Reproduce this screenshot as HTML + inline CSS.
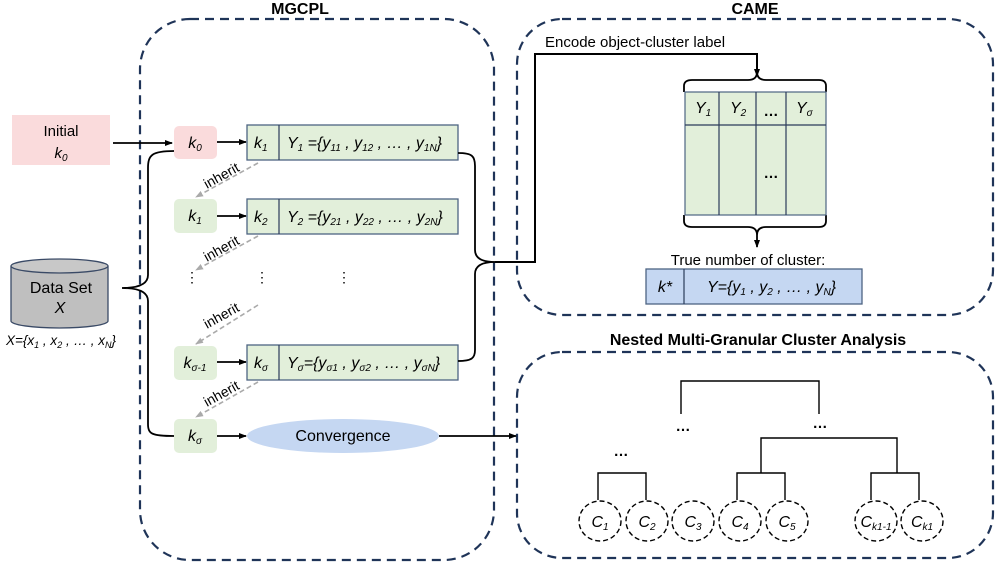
<!DOCTYPE html>
<html><head><meta charset="utf-8"><style>
html,body{margin:0;padding:0;background:#fff}
svg{display:block}
text{font-family:"Liberation Sans",Arial,sans-serif;fill:#000}
.i{font-style:italic}
</style></head><body>
<svg width="996" height="563" viewBox="0 0 996 563" xmlns="http://www.w3.org/2000/svg">
<defs>
<marker id="a" markerWidth="8" markerHeight="8" refX="7" refY="4" orient="auto" markerUnits="userSpaceOnUse"><path d="M0,1 L8,4 L0,7 Z" fill="#000"/></marker>
<marker id="g" markerWidth="8" markerHeight="8" refX="7" refY="4" orient="auto" markerUnits="userSpaceOnUse"><path d="M0,1 L8,4 L0,7 Z" fill="#aaa"/></marker>
</defs>
<g fill="none" stroke="#1f3458" stroke-width="2.2" stroke-dasharray="9,6">
<rect x="140" y="19" width="354" height="541" rx="50"/>
<rect x="517" y="19" width="476" height="296" rx="45"/>
<rect x="517" y="352" width="476" height="206" rx="45"/>
</g>
<text x="300" y="14" font-size="16" font-weight="bold" text-anchor="middle">MGCPL</text>
<text x="755" y="14" font-size="16" font-weight="bold" text-anchor="middle">CAME</text>
<text x="758" y="345" font-size="16" font-weight="bold" text-anchor="middle">Nested Multi-Granular Cluster Analysis</text>

<rect x="12" y="115" width="98" height="50" fill="#fadbdc"/>
<text x="61" y="136" font-size="15" text-anchor="middle">Initial</text>
<text x="61" y="158" font-size="15" text-anchor="middle" class="i">k<tspan font-size="10" dy="3">0</tspan></text>
<line x1="113" y1="143" x2="172" y2="143" stroke="#000" stroke-width="1.8" marker-end="url(#a)"/>

<path d="M11,266 L11,321 A48.5,7 0 0 0 108,321 L108,266" fill="#bfbfbf" stroke="#3a4a66" stroke-width="1.3"/>
<ellipse cx="59.5" cy="266" rx="48.5" ry="7" fill="#c8c8c8" stroke="#3a4a66" stroke-width="1.3"/>
<text x="61" y="293" font-size="16" text-anchor="middle">Data Set</text>
<text x="60" y="313" font-size="16" text-anchor="middle" class="i">X</text>
<text x="61" y="345" font-size="13.5" text-anchor="middle" class="i">X={x<tspan font-size="9" dy="3">1</tspan><tspan dy="-3"> , x</tspan><tspan font-size="9" dy="3">2</tspan><tspan dy="-3"> , … , x</tspan><tspan font-size="9" dy="3">N</tspan><tspan dy="-3">}</tspan></text>

<path d="M174,151 C152,151 148,155 148,168 L148,275 Q148,288 122,288 Q148,288 148,301 L148,424 C148,434 152,436 174,436" fill="none" stroke="#000" stroke-width="1.8"/>

<rect x="174" y="126" width="43" height="33" rx="5" fill="#fadbdc"/>
<rect x="174" y="199" width="43" height="34" rx="5" fill="#e2efda"/>
<rect x="174" y="346" width="43" height="34" rx="5" fill="#e2efda"/>
<rect x="174" y="419" width="43" height="34" rx="5" fill="#e2efda"/>
<text x="195" y="148" font-size="16" text-anchor="middle" class="i">k<tspan font-size="10" dy="3">0</tspan></text>
<text x="195" y="221" font-size="16" text-anchor="middle" class="i">k<tspan font-size="10" dy="3">1</tspan></text>
<text x="195" y="368" font-size="16" text-anchor="middle" class="i">k<tspan font-size="10" dy="3">σ-1</tspan></text>
<text x="195" y="441" font-size="16" text-anchor="middle" class="i">k<tspan font-size="10" dy="3">σ</tspan></text>

<g stroke="#000" stroke-width="1.8">
<line x1="217" y1="142" x2="246" y2="142" marker-end="url(#a)"/>
<line x1="217" y1="216" x2="246" y2="216" marker-end="url(#a)"/>
<line x1="217" y1="362" x2="246" y2="362" marker-end="url(#a)"/>
<line x1="217" y1="436" x2="246" y2="436" marker-end="url(#a)"/>
</g>

<g fill="#e2efda" stroke="#4d6482" stroke-width="1.3">
<rect x="247" y="125" width="211" height="35"/>
<rect x="247" y="199" width="211" height="35"/>
<rect x="247" y="345" width="211" height="35"/>
</g>
<g stroke="#2b3b5a" stroke-width="1.2">
<line x1="279" y1="125" x2="279" y2="160"/><line x1="279" y1="199" x2="279" y2="234"/><line x1="279" y1="345" x2="279" y2="380"/>
</g>
<g font-size="16">
<text x="254" y="148" class="i">k<tspan font-size="10" dy="3">1</tspan></text>
<text x="254" y="222" class="i">k<tspan font-size="10" dy="3">2</tspan></text>
<text x="254" y="368" class="i">k<tspan font-size="10" dy="3">σ</tspan></text>
<text x="287" y="148" class="i">Y<tspan font-size="10" dy="3">1</tspan><tspan dy="-3"> ={y</tspan><tspan font-size="10" dy="3">11</tspan><tspan dy="-3"> , y</tspan><tspan font-size="10" dy="3">12</tspan><tspan dy="-3"> , … , y</tspan><tspan font-size="10" dy="3">1N</tspan><tspan dy="-3">}</tspan></text>
<text x="287" y="222" class="i">Y<tspan font-size="10" dy="3">2</tspan><tspan dy="-3"> ={y</tspan><tspan font-size="10" dy="3">21</tspan><tspan dy="-3"> , y</tspan><tspan font-size="10" dy="3">22</tspan><tspan dy="-3"> , … , y</tspan><tspan font-size="10" dy="3">2N</tspan><tspan dy="-3">}</tspan></text>
<text x="287" y="368" class="i">Y<tspan font-size="10" dy="3">σ</tspan><tspan dy="-3">={y</tspan><tspan font-size="10" dy="3">σ1</tspan><tspan dy="-3"> , y</tspan><tspan font-size="10" dy="3">σ2</tspan><tspan dy="-3"> , … , y</tspan><tspan font-size="10" dy="3">σN</tspan><tspan dy="-3">}</tspan></text>
</g>
<text x="192" y="282" font-size="14" text-anchor="middle">⋮</text>
<text x="262" y="282" font-size="14" text-anchor="middle">⋮</text>
<text x="344" y="282" font-size="14" text-anchor="middle">⋮</text>

<g stroke="#aaa" stroke-width="1.6" stroke-dasharray="5,3" fill="none">
<line x1="258" y1="163" x2="196" y2="197" marker-end="url(#g)"/>
<line x1="258" y1="236" x2="196" y2="270" marker-end="url(#g)"/>
<line x1="258" y1="305" x2="196" y2="344" marker-end="url(#g)"/>
<line x1="258" y1="382" x2="196" y2="417" marker-end="url(#g)"/>
</g>
<g font-size="14">
<text transform="translate(207,189) rotate(-29)">inherit</text>
<text transform="translate(207,262) rotate(-29)">inherit</text>
<text transform="translate(207,329) rotate(-29)">inherit</text>
<text transform="translate(207,407) rotate(-29)">inherit</text>
</g>

<ellipse cx="343" cy="436" rx="96" ry="17" fill="#c5d7f2"/>
<text x="343" y="441" font-size="16" text-anchor="middle">Convergence</text>
<line x1="439" y1="436" x2="516" y2="436" stroke="#000" stroke-width="1.8" marker-end="url(#a)"/>

<path d="M458,153 C472,153 475,156 475,166 L475,250 Q475,262 495,262 Q475,262 475,274 L475,350 C475,358 472,361 458,361" fill="none" stroke="#000" stroke-width="1.8"/>
<path d="M495,262 L535,262 L535,54 L757,54 L757,76" fill="none" stroke="#000" stroke-width="2" marker-end="url(#a)"/>
<text x="545" y="47" font-size="15">Encode object-cluster label</text>

<path d="M684,92 L684,86 Q684,80 692,80 L748,80 Q757,80 757,72 Q757,80 766,80 L819,80 Q826,80 826,86 L826,92" fill="none" stroke="#000" stroke-width="1.8"/>
<path d="M684,215 L684,221 Q684,227 692,227 L748,227 Q757,227 757,235 Q757,227 766,227 L819,227 Q826,227 826,221 L826,215" fill="none" stroke="#000" stroke-width="1.8"/>
<line x1="757" y1="235" x2="757" y2="247" stroke="#000" stroke-width="1.8" marker-end="url(#a)"/>

<rect x="685" y="92" width="141" height="123" fill="#e2efda" stroke="#4d6482" stroke-width="1.2"/>
<g stroke="#2b3b5a" stroke-width="1.2">
<line x1="685" y1="125" x2="826" y2="125"/>
<line x1="719" y1="92" x2="719" y2="215"/><line x1="756" y1="92" x2="756" y2="215"/><line x1="786" y1="92" x2="786" y2="215"/>
</g>
<g font-size="16">
<text x="695" y="113" class="i">Y<tspan font-size="10" dy="3">1</tspan></text>
<text x="730" y="113" class="i">Y<tspan font-size="10" dy="3">2</tspan></text>
<text x="796" y="113" class="i">Y<tspan font-size="10" dy="3">σ</tspan></text>
</g>
<text x="771" y="116" font-size="15" font-weight="bold" text-anchor="middle">…</text>
<text x="771" y="178" font-size="15" font-weight="bold" text-anchor="middle">…</text>

<text x="748" y="265" font-size="15" text-anchor="middle">True number of cluster:</text>
<rect x="646" y="269" width="216" height="35" fill="#c5d7f2" stroke="#4d6482" stroke-width="1.3"/>
<line x1="684" y1="269" x2="684" y2="304" stroke="#2b3b5a" stroke-width="1.2"/>
<text x="665" y="292" font-size="16" text-anchor="middle" class="i">k*</text>
<text x="707" y="292" font-size="16" class="i">Y={y<tspan font-size="10" dy="3">1</tspan><tspan dy="-3"> , y</tspan><tspan font-size="10" dy="3">2</tspan><tspan dy="-3"> , … , y</tspan><tspan font-size="10" dy="3">N</tspan><tspan dy="-3">}</tspan></text>

<g fill="none" stroke="#000" stroke-width="1.4">
<path d="M598,500 L598,473 L646,473 L646,500"/>
<path d="M737,500 L737,473 L785,473 L785,500"/>
<path d="M871,500 L871,473 L919,473 L919,500"/>
<path d="M761,473 L761,438 L897,438 L897,473"/>
<path d="M681,414 L681,381 L819,381 L819,414"/>
</g>
<g fill="none" stroke="#000" stroke-width="1.4" stroke-dasharray="5,3">
<ellipse cx="600" cy="521" rx="21" ry="20"/>
<ellipse cx="647" cy="521" rx="21" ry="20"/>
<ellipse cx="693" cy="521" rx="21" ry="20"/>
<ellipse cx="740" cy="521" rx="21" ry="20"/>
<ellipse cx="787" cy="521" rx="21" ry="20"/>
<ellipse cx="876" cy="521" rx="21" ry="20"/>
<ellipse cx="922" cy="521" rx="21" ry="20"/>
</g>
<g font-size="16" text-anchor="middle">
<text x="600" y="527" class="i">C<tspan font-size="10" dy="3">1</tspan></text>
<text x="647" y="527" class="i">C<tspan font-size="10" dy="3">2</tspan></text>
<text x="693" y="527" class="i">C<tspan font-size="10" dy="3">3</tspan></text>
<text x="740" y="527" class="i">C<tspan font-size="10" dy="3">4</tspan></text>
<text x="787" y="527" class="i">C<tspan font-size="10" dy="3">5</tspan></text>
<text x="876" y="527" class="i">C<tspan font-size="10" dy="3">k1-1</tspan></text>
<text x="922" y="527" class="i">C<tspan font-size="10" dy="3">k1</tspan></text>
</g>
<g font-size="15" font-weight="bold" text-anchor="middle">
<text x="683" y="431">…</text>
<text x="820" y="428">…</text>
<text x="621" y="456">…</text>
</g>
</svg>
</body></html>
